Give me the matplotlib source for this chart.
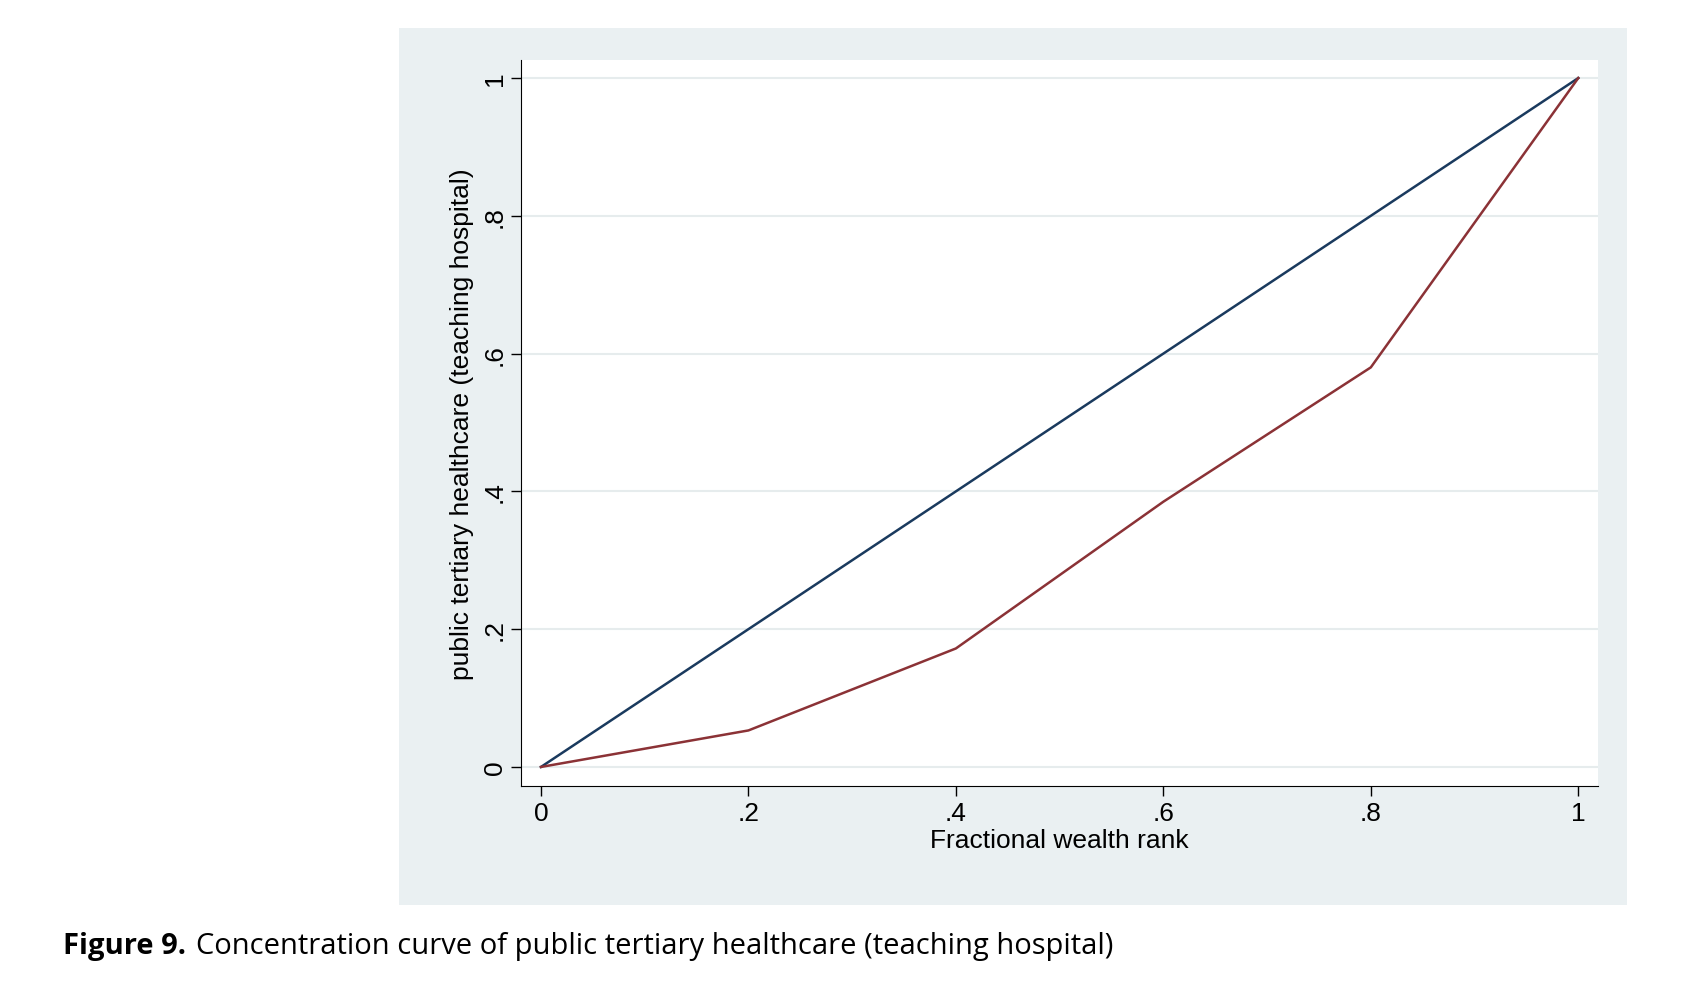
import matplotlib
matplotlib.use('Agg')
import matplotlib.pyplot as plt

# concentration curve data
rank = [0, 0.2, 0.4, 0.6, 0.8, 1.0]
equality = [0, 0.2, 0.4, 0.6, 0.8, 1.0]
conc = [0, 0.053, 0.172, 0.385, 0.58, 1.0]
xticks = [0, 0.2, 0.4, 0.6, 0.8, 1.0]
xlabels = ['0', '.2', '.4', '.6', '.8', '1']
ylabels = ['0', '.2', '.4', '.6', '.8', '1']

plt.rcParams['font.family'] = ['Liberation Sans', 'DejaVu Sans']
fig = plt.figure(figsize=(16.98, 10.04), dpi=100)
W, H = 1560, 940

# grey panel behind the plot
bg = fig.add_axes([367/W, 1-848/H, (1495-367)/W, (848-27)/H])
bg.set_facecolor('#eaf0f2')
bg.set_xticks([]); bg.set_yticks([])
for s in bg.spines.values():
    s.set_visible(False)

ax = fig.add_axes([479/W, 1-737/H, (1468-479)/W, (737-57)/H])
ax.set_facecolor('white')
ax.plot(rank, equality, color='#1a3a5e', lw=1.8)
ax.plot(rank, conc, color='#8b3236', lw=1.8)

# axis range so that 0..1 sits at the reference pixel positions
x0 = (479-497)/(1450-497); x1 = 1 + (1468-1450)/(1450-497)
y0 = -(737-719)/(719-74); y1 = 1 + (74-57)/(719-74)
ax.set_xlim(x0, x1)
ax.set_ylim(y0, y1)
ax.set_xticks(xticks, xlabels, fontsize=19)
ax.set_yticks(xticks, ylabels, fontsize=19, rotation=90, va='center')
ax.yaxis.grid(True, color='#e6eced', lw=1.5)
ax.set_axisbelow(True)
for s in ['top', 'right']:
    ax.spines[s].set_visible(False)
ax.tick_params(length=7, width=1)
ax.set_xlabel('Fractional wealth rank', fontsize=19, labelpad=2)
ax.set_ylabel('public tertiary healthcare (teaching hospital)', fontsize=19, labelpad=6)

fig.text(58/W, 1-886/H, 'Figure 9.', fontsize=21, va='center',
         family='Open Sans', fontweight='bold')
fig.text(180/W, 1-886/H, 'Concentration curve of public tertiary healthcare (teaching hospital)',
         fontsize=21, va='center', family='Open Sans')

fig.savefig('out.png', dpi=100)
